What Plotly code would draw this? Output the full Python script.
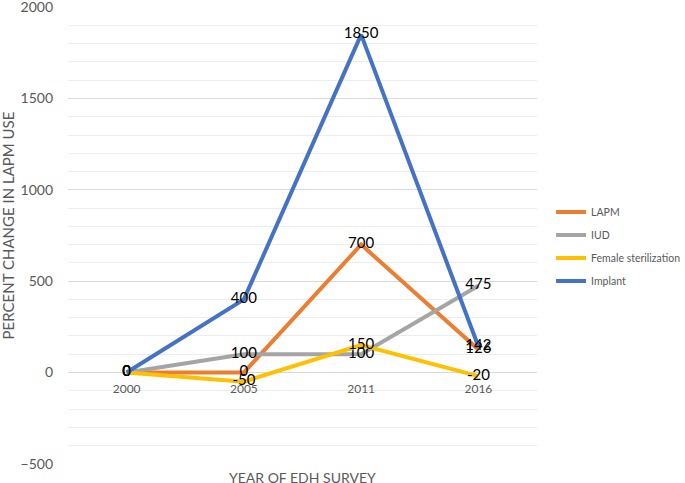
import plotly.graph_objects as go

years = ["2000", "2005", "2011", "2016"]
lapm = [0, 0, 700, 126]
iud = [0, 100, 100, 475]
female_sterilization = [0, -50, 150, -20]
implant = [0, 400, 1850, 142]

series_names = ["LAPM", "IUD", "Female sterilization", "Implant"]
series_values = [lapm, iud, female_sterilization, implant]
series_colors = ["#ED7D31", "#A5A5A5", "#FFC000", "#4472C4"]

fig = go.Figure()
for name, vals, col in zip(series_names, series_values, series_colors):
    fig.add_trace(go.Scatter(x=years, y=vals,
                             mode='lines+text',
                             name=name, legendgroup=name,
                             line=dict(color=col, width=4),
                             text=[str(v) for v in vals],
                             textposition='middle center',
                             textfont=dict(color='black', size=15, family='Lato')))

fig.update_layout(width=685, height=483,
                  margin=dict(l=68, r=148, t=7, b=19, autoexpand=False),
                  plot_bgcolor='white', paper_bgcolor='white',
                  font=dict(family='Lato', color='#595959', size=13),
                  legend=dict(x=1.03, y=0.583, xanchor='left', yanchor='top',
                              font=dict(size=10.5, color='#595959'),
                              tracegroupgap=4, itemwidth=30),
                  showlegend=True)

fig.update_xaxes(type='category', range=[-0.5, 3.5],
                 anchor='free', position=0.2, automargin=False,
                 showgrid=False, showline=False, ticks='',
                 ticklabelstandoff=7,
                 tickfont=dict(size=12, color='#595959'))
fig.update_yaxes(range=[-501, 2001], tickvals=[-500, 0, 500, 1000, 1500, 2000],
                 gridcolor='#D9D9D9', gridwidth=1, automargin=False,
                 zeroline=False, ticks='', ticklabelstandoff=14,
                 ticklabeloverflow='allow',
                 tickfont=dict(size=14, color='#595959'),
                 minor=dict(tickvals=list(range(-500, 2001, 100)), showgrid=True,
                            gridcolor='#EDEDED', gridwidth=1))

fig.add_annotation(text='PERCENT CHANGE IN LAPM USE', xref='paper', yref='paper',
                   x=-0.127, y=0.523, textangle=-90, showarrow=False,
                   xanchor='center', yanchor='middle',
                   font=dict(size=15, color='#595959'))
fig.add_annotation(text='YEAR OF EDH SURVEY', xref='paper', yref='paper',
                   x=0.5, y=-0.029, yanchor='middle', showarrow=False,
                   font=dict(size=14, color='#595959'))

fig.write_html("out.html", config={'displayModeBar': False},
               post_script="document.body.style.margin='0';")
